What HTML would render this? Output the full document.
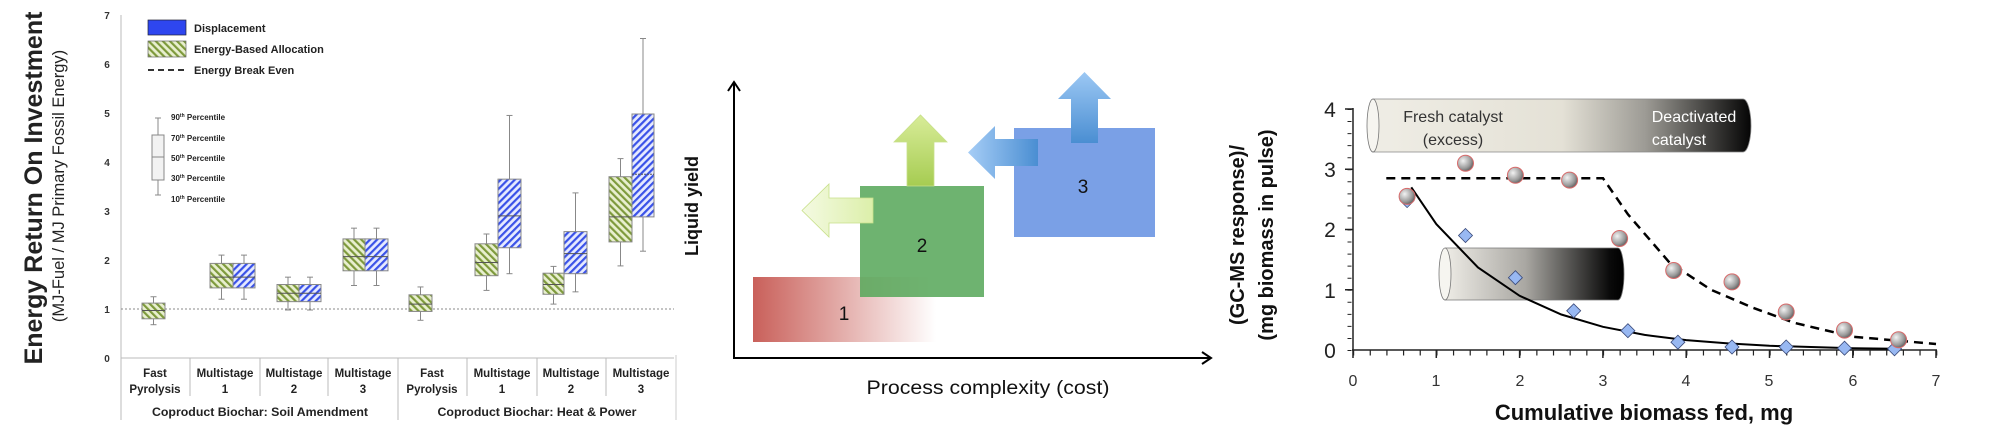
<!DOCTYPE html>
<html><head><meta charset="utf-8"><style>
html,body{margin:0;padding:0;background:#fff;}
svg{display:block;}
text{font-family:"Liberation Sans",sans-serif;}
</style></head><body>
<svg width="2000" height="425" viewBox="0 0 2000 425" xmlns="http://www.w3.org/2000/svg">
<defs>
<pattern id="hg" width="5" height="5" patternUnits="userSpaceOnUse" patternTransform="rotate(-45)">
<rect width="5" height="5" fill="#e8efcf"/><rect width="2.2" height="5" fill="#7e9a3c"/></pattern>
<pattern id="hb" width="5" height="5" patternUnits="userSpaceOnUse" patternTransform="rotate(45)">
<rect width="5" height="5" fill="#e6eaff"/><rect width="2.2" height="5" fill="#3a52e8"/></pattern>
<linearGradient id="gred" x1="0" x2="1" y1="0" y2="0"><stop offset="0" stop-color="#c9605a"/><stop offset="1" stop-color="#c9605a" stop-opacity="0"/></linearGradient>
<linearGradient id="gup" x1="0" x2="0" y1="0" y2="1"><stop offset="0" stop-color="#d8ec98"/><stop offset="1" stop-color="#a6cc52"/></linearGradient>
<linearGradient id="gleft" x1="0" x2="1" y1="0" y2="0"><stop offset="0" stop-color="#f4fae2"/><stop offset="1" stop-color="#dcefaa"/></linearGradient>
<linearGradient id="bleft" x1="0" x2="1" y1="0" y2="0"><stop offset="0" stop-color="#a6cdf6"/><stop offset="1" stop-color="#4a8ed2"/></linearGradient>
<linearGradient id="bup" x1="0" x2="0" y1="0" y2="1"><stop offset="0" stop-color="#9cc8f4"/><stop offset="1" stop-color="#4a8ed2"/></linearGradient>
<linearGradient id="cyl1" x1="0" x2="1" y1="0" y2="0"><stop offset="0" stop-color="#efede5"/><stop offset="0.5" stop-color="#e4e1d6"/><stop offset="0.72" stop-color="#9d9b95"/><stop offset="1" stop-color="#050505"/></linearGradient>
<linearGradient id="cyl2" x1="0" x2="1" y1="0" y2="0"><stop offset="0" stop-color="#eeece6"/><stop offset="0.45" stop-color="#a9a7a2"/><stop offset="0.92" stop-color="#0a0a0a"/><stop offset="1" stop-color="#000"/></linearGradient>
<radialGradient id="ball" cx="0.35" cy="0.35" r="0.8"><stop offset="0" stop-color="#f2f2f2"/><stop offset="0.6" stop-color="#9a9a9a"/><stop offset="1" stop-color="#444"/></radialGradient>
<clipPath id="lc"><rect x="0" y="0" width="674" height="425"/></clipPath>
</defs>

<!-- ============ LEFT CHART ============ -->
<g clip-path="url(#lc)">
<text transform="translate(42,188) rotate(-90)" text-anchor="middle" font-size="25" font-weight="bold" fill="#222">Energy Return On Investment</text>
<text transform="translate(64,186) rotate(-90)" text-anchor="middle" font-size="16.5" fill="#222">(MJ-Fuel / MJ Primary Fossil Energy)</text>
<g font-size="10" font-weight="bold" fill="#333" text-anchor="middle">
<text x="107" y="19">7</text><text x="107" y="68">6</text><text x="107" y="117">5</text><text x="107" y="166">4</text><text x="107" y="215">3</text><text x="107" y="264">2</text><text x="107" y="313">1</text><text x="107" y="362">0</text>
</g>
<g stroke="#bbb" stroke-width="1" fill="none">
<line x1="121" y1="15" x2="121" y2="420"/>
<line x1="121" y1="358" x2="676" y2="358"/>
<line x1="190" y1="358" x2="190" y2="396"/><line x1="260" y1="358" x2="260" y2="396"/><line x1="328" y1="358" x2="328" y2="396"/>
<line x1="398" y1="358" x2="398" y2="420"/>
<line x1="467" y1="358" x2="467" y2="396"/><line x1="537" y1="358" x2="537" y2="396"/><line x1="606" y1="358" x2="606" y2="396"/>
</g>
<line x1="121" y1="309" x2="676" y2="309" stroke="#888" stroke-width="1" stroke-dasharray="2 2"/>
<rect x="148" y="20" width="38" height="15" fill="#2e46ef" stroke="#223" stroke-width="0.7"/>
<rect x="148" y="41" width="38" height="16" fill="url(#hg)" stroke="#666" stroke-width="0.7"/>
<line x1="148" y1="70" x2="186" y2="70" stroke="#333" stroke-width="2" stroke-dasharray="6 4"/>
<g font-size="11" font-weight="bold" fill="#222">
<text x="194" y="32">Displacement</text><text x="194" y="53">Energy-Based Allocation</text><text x="194" y="74">Energy Break Even</text>
</g>
<g stroke="#888" stroke-width="1">
<line x1="158" y1="118" x2="158" y2="195"/><line x1="155" y1="118" x2="161" y2="118"/><line x1="155" y1="195" x2="161" y2="195"/>
<rect x="152" y="135" width="12" height="45" fill="#f2f2f2"/><line x1="152" y1="157" x2="164" y2="157"/>
</g>
<g font-size="8" font-weight="bold" fill="#222">
<text x="171" y="120">90<tspan font-size="5" dy="-3">th</tspan><tspan dy="3"> Percentile</tspan></text>
<text x="171" y="141">70<tspan font-size="5" dy="-3">th</tspan><tspan dy="3"> Percentile</tspan></text>
<text x="171" y="161">50<tspan font-size="5" dy="-3">th</tspan><tspan dy="3"> Percentile</tspan></text>
<text x="171" y="181">30<tspan font-size="5" dy="-3">th</tspan><tspan dy="3"> Percentile</tspan></text>
<text x="171" y="202">10<tspan font-size="5" dy="-3">th</tspan><tspan dy="3"> Percentile</tspan></text>
</g>
<g stroke="#888" stroke-width="1">
<line x1="153.5" y1="296.75" x2="153.5" y2="324.7"/><line x1="150.5" y1="296.75" x2="156.5" y2="296.75"/><line x1="150.5" y1="324.7" x2="156.5" y2="324.7"/>
<rect x="142" y="303.1" width="23" height="15.7" fill="url(#hg)"/><line x1="142" y1="310.5" x2="165" y2="310.5" stroke="#555"/>
<line x1="221.5" y1="255.1" x2="221.5" y2="299.2"/><line x1="218.5" y1="255.1" x2="224.5" y2="255.1"/><line x1="218.5" y1="299.2" x2="224.5" y2="299.2"/>
<line x1="244" y1="255.1" x2="244" y2="299.2"/><line x1="241" y1="255.1" x2="247" y2="255.1"/><line x1="241" y1="299.2" x2="247" y2="299.2"/>
<rect x="210" y="263.4" width="23" height="24.5" fill="url(#hg)"/><rect x="233" y="263.4" width="22" height="24.5" fill="url(#hb)"/>
<line x1="210" y1="277.15" x2="255" y2="277.15" stroke="#555"/>
<line x1="288" y1="277.15" x2="288" y2="310"/><line x1="285" y1="277.15" x2="291" y2="277.15"/><line x1="285" y1="310" x2="291" y2="310"/>
<line x1="310" y1="277.15" x2="310" y2="310"/><line x1="307" y1="277.15" x2="313" y2="277.15"/><line x1="307" y1="310" x2="313" y2="310"/>
<rect x="277" y="284.5" width="22" height="17.15" fill="url(#hg)"/><rect x="299" y="284.5" width="22" height="17.15" fill="url(#hb)"/>
<line x1="277" y1="293.3" x2="321" y2="293.3" stroke="#555"/>
<line x1="354" y1="228.15" x2="354" y2="285.5"/><line x1="351" y1="228.15" x2="357" y2="228.15"/><line x1="351" y1="285.5" x2="357" y2="285.5"/>
<line x1="376.5" y1="228.15" x2="376.5" y2="285.5"/><line x1="373.5" y1="228.15" x2="379.5" y2="228.15"/><line x1="373.5" y1="285.5" x2="379.5" y2="285.5"/>
<rect x="343" y="238.9" width="22" height="31.9" fill="url(#hg)"/><rect x="365" y="238.9" width="23" height="31.9" fill="url(#hb)"/>
<line x1="343" y1="256.6" x2="388" y2="256.6" stroke="#555"/>
<line x1="420.5" y1="286.95" x2="420.5" y2="320.3"/><line x1="417.5" y1="286.95" x2="423.5" y2="286.95"/><line x1="417.5" y1="320.3" x2="423.5" y2="320.3"/>
<rect x="409" y="294.8" width="23" height="16.65" fill="url(#hg)"/><line x1="409" y1="304.1" x2="432" y2="304.1" stroke="#555"/>
<line x1="486.5" y1="234" x2="486.5" y2="290.4"/><line x1="483.5" y1="234" x2="489.5" y2="234"/><line x1="483.5" y1="290.4" x2="489.5" y2="290.4"/>
<rect x="475" y="243.8" width="23" height="31.9" fill="url(#hg)"/><line x1="475" y1="262.45" x2="498" y2="262.45" stroke="#555"/>
<line x1="509.5" y1="115.45" x2="509.5" y2="273.7"/><line x1="506.5" y1="115.45" x2="512.5" y2="115.45"/><line x1="506.5" y1="273.7" x2="512.5" y2="273.7"/>
<rect x="498" y="179.15" width="23" height="68.6" fill="url(#hb)"/><line x1="498" y1="215.9" x2="521" y2="215.9" stroke="#555"/>
<line x1="553.5" y1="266.4" x2="553.5" y2="304.1"/><line x1="550.5" y1="266.4" x2="556.5" y2="266.4"/><line x1="550.5" y1="304.1" x2="556.5" y2="304.1"/>
<rect x="543" y="273.2" width="21" height="21.1" fill="url(#hg)"/><line x1="543" y1="284.5" x2="564" y2="284.5" stroke="#555"/>
<line x1="575.5" y1="192.9" x2="575.5" y2="291.85"/><line x1="572.5" y1="192.9" x2="578.5" y2="192.9"/><line x1="572.5" y1="291.85" x2="578.5" y2="291.85"/>
<rect x="564" y="231.6" width="23" height="42.1" fill="url(#hb)"/><line x1="564" y1="253.6" x2="587" y2="253.6" stroke="#555"/>
<line x1="620.5" y1="158.6" x2="620.5" y2="265.9"/><line x1="617.5" y1="158.6" x2="623.5" y2="158.6"/><line x1="617.5" y1="265.9" x2="623.5" y2="265.9"/>
<rect x="609" y="176.7" width="23" height="65.2" fill="url(#hg)"/><line x1="609" y1="216.9" x2="632" y2="216.9" stroke="#555"/>
<line x1="643" y1="38.5" x2="643" y2="251.2"/><line x1="640" y1="38.5" x2="646" y2="38.5"/><line x1="640" y1="251.2" x2="646" y2="251.2"/>
<rect x="632" y="114" width="22" height="102.9" fill="url(#hb)"/><line x1="632" y1="174.25" x2="654" y2="174.25" stroke="#555" stroke-dasharray="2 1"/>
</g>
<g font-size="11.5" font-weight="bold" fill="#222" text-anchor="middle">
<text x="155" y="377">Fast</text><text x="155" y="393">Pyrolysis</text>
<text x="225" y="377">Multistage</text><text x="225" y="393">1</text>
<text x="294" y="377">Multistage</text><text x="294" y="393">2</text>
<text x="363" y="377">Multistage</text><text x="363" y="393">3</text>
<text x="432" y="377">Fast</text><text x="432" y="393">Pyrolysis</text>
<text x="502" y="377">Multistage</text><text x="502" y="393">1</text>
<text x="571" y="377">Multistage</text><text x="571" y="393">2</text>
<text x="641" y="377">Multistage</text><text x="641" y="393">3</text>
<text x="260" y="416" textLength="216" lengthAdjust="spacingAndGlyphs">Coproduct Biochar: Soil Amendment</text>
<text x="537" y="416" textLength="199" lengthAdjust="spacingAndGlyphs">Coproduct Biochar: Heat &amp; Power</text>
</g>
</g>
<line x1="676" y1="355" x2="676" y2="420" stroke="#ccc" stroke-width="1"/>

<!-- ============ MIDDLE ============ -->
<rect x="753" y="277" width="183" height="65" fill="url(#gred)"/>
<rect x="860" y="186" width="124" height="111" fill="#5aa85c" fill-opacity="0.88"/>
<rect x="1014" y="128" width="141" height="109" fill="#7aa0e6"/>
<polygon points="907,186 907,142 894,142 920.5,115 947,142 934,142 934,186" fill="url(#gup)" stroke="#c8e08a" stroke-width="0.8"/>
<polygon points="873,198 829,198 829,184 802,210.5 829,237 829,223 873,223" fill="url(#gleft)" stroke="#c8e08a" stroke-width="0.8"/>
<polygon points="1038,139 995,139 995,126 968,152.5 995,179 995,166 1038,166" fill="url(#bleft)"/>
<polygon points="1071,143 1071,99 1058,99 1084.5,72 1111,99 1098,99 1098,143" fill="url(#bup)"/>
<g font-size="19" fill="#111" text-anchor="middle">
<text x="844" y="320">1</text><text x="922" y="252">2</text><text x="1083" y="193">3</text>
</g>
<g stroke="#000" stroke-width="2" fill="none">
<line x1="734" y1="84" x2="734" y2="358"/><line x1="733" y1="358" x2="1210" y2="358"/>
<polyline points="728,91 734,82 740,91"/><polyline points="1202,352 1211,358 1202,364"/>
</g>
<text transform="translate(698,206) rotate(-90)" text-anchor="middle" font-size="18" font-weight="bold" fill="#111">Liquid yield</text>
<text x="988" y="394" text-anchor="middle" font-size="19" fill="#111" textLength="243" lengthAdjust="spacingAndGlyphs">Process complexity (cost)</text>

<!-- ============ RIGHT CHART ============ -->
<text transform="translate(1244,235) rotate(-90)" text-anchor="middle" font-size="20" font-weight="bold" fill="#111">(GC-MS response)/</text>
<text transform="translate(1273,235) rotate(-90)" text-anchor="middle" font-size="20" font-weight="bold" fill="#111">(mg biomass in pulse)</text>
<path d="M1373,99 L1743,99 A8,26.5 0 0 1 1743,152 L1373,152 Z" fill="url(#cyl1)" stroke="#888" stroke-width="0.8"/>
<ellipse cx="1373" cy="125.5" rx="6" ry="26.5" fill="#f6f5f0" stroke="#777" stroke-width="0.8"/>
<g font-size="16" text-anchor="middle">
<text x="1453" y="122" fill="#333">Fresh catalyst</text><text x="1453" y="145" fill="#333">(excess)</text>
<text x="1694" y="122" fill="#fff">Deactivated</text><text x="1679" y="145" fill="#fff">catalyst</text>
</g>
<path d="M1445,248 L1618,248 A6,26 0 0 1 1618,300 L1445,300 Z" fill="url(#cyl2)" stroke="#777" stroke-width="0.8"/>
<ellipse cx="1445" cy="274" rx="6" ry="26" fill="#f6f5f0" stroke="#777" stroke-width="0.8"/>
<g stroke="#222" fill="none">
<line x1="1353" y1="108" x2="1353" y2="351" stroke-width="1.5"/>
<line x1="1352" y1="350" x2="1937" y2="350" stroke-width="1.5"/>
<line x1="1349.5" y1="109" x2="1349.5" y2="351" stroke-width="4" stroke-dasharray="1 11.05"/>
<line x1="1353" y1="353" x2="1940" y2="353" stroke-width="5" stroke-dasharray="1.2 15.46"/>
<path d="M1345,109H1353M1345,169.25H1353M1345,229.5H1353M1345,289.75H1353M1353,350V358M1436.3,350V358M1519.6,350V358M1602.9,350V358M1686.2,350V358M1769.5,350V358M1852.8,350V358M1936,350V358" stroke-width="1.5"/>
</g>
<g font-size="21" fill="#222" text-anchor="middle">
<text x="1330" y="117">4</text><text x="1330" y="177">3</text><text x="1330" y="237">2</text><text x="1330" y="298">1</text><text x="1330" y="358">0</text>
</g>
<g font-size="16" fill="#333" text-anchor="middle">
<text x="1353" y="386">0</text><text x="1436" y="386">1</text><text x="1520" y="386">2</text><text x="1603" y="386">3</text><text x="1686" y="386">4</text><text x="1769" y="386">5</text><text x="1853" y="386">6</text><text x="1936" y="386">7</text>
</g>
<text x="1644" y="420" text-anchor="middle" font-size="22" font-weight="bold" fill="#111">Cumulative biomass fed, mg</text>
<polyline points="1386.3,178.3 1603,178.3 1628,214.4 1669.5,262.6 1711,289.75 1753,307.8 1794.5,322.9 1852.8,336.7 1936,344" fill="none" stroke="#000" stroke-width="2.5" stroke-dasharray="9 6"/>
<polyline points="1411.3,187.3 1436.3,224.1 1478,267.5 1519.6,295.8 1561.3,314.5 1602.9,326.8 1644.6,334.9 1686.2,340.1 1727.9,343.4 1769.5,345.8 1811,347 1853,348.2 1894.5,348.8" fill="none" stroke="#000" stroke-width="2"/>
<g fill="#98b8f2" stroke="#3a4a7a" stroke-width="0.8">
<polygon points="1407.1,193.6 1414.1,200.6 1407.1,207.6 1400.1,200.6"/>
<polygon points="1465.5,228.5 1472.5,235.5 1465.5,242.5 1458.5,235.5"/>
<polygon points="1515.4,270.7 1522.4,277.7 1515.4,284.7 1508.4,277.7"/>
<polygon points="1573.7,303.8 1580.7,310.8 1573.7,317.8 1566.7,310.8"/>
<polygon points="1627.9,323.7 1634.9,330.7 1627.9,337.7 1620.9,330.7"/>
<polygon points="1677.9,335.2 1684.9,342.2 1677.9,349.2 1670.9,342.2"/>
<polygon points="1732,340 1739,347 1732,354 1725,347"/>
<polygon points="1786.2,340 1793.2,347 1786.2,354 1779.2,347"/>
<polygon points="1844.5,341.2 1851.5,348.2 1844.5,355.2 1837.5,348.2"/>
<polygon points="1894.5,341.8 1901.5,348.8 1894.5,355.8 1887.5,348.8"/>
</g>
<g fill="url(#ball)" stroke="#d86a6a" stroke-width="1">
<circle cx="1407.1" cy="196.4" r="8"/><circle cx="1465.5" cy="163.2" r="8"/><circle cx="1515.4" cy="175.3" r="8"/><circle cx="1569.6" cy="180.1" r="8"/><circle cx="1619.6" cy="238.5" r="8"/><circle cx="1673.7" cy="270.5" r="8"/><circle cx="1732" cy="281.9" r="8"/><circle cx="1786.2" cy="312" r="8"/><circle cx="1844.5" cy="330.1" r="8"/><circle cx="1898.6" cy="339.8" r="8"/>
</g>
</svg>
</body></html>
